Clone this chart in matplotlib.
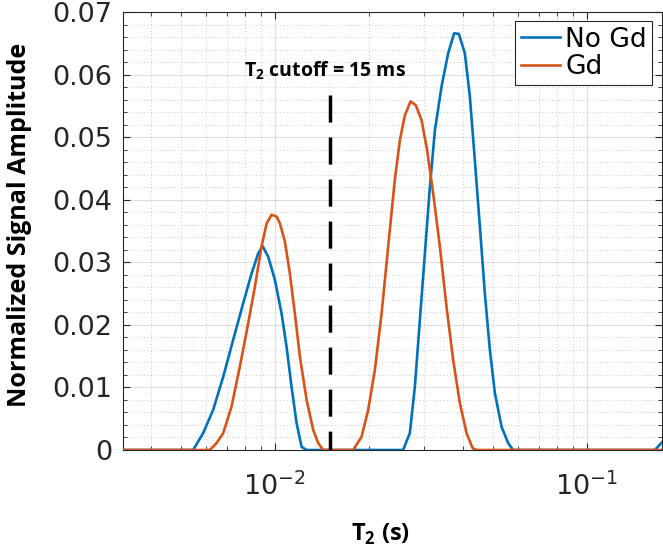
import matplotlib
matplotlib.use("Agg")
from matplotlib import pyplot as plt
from matplotlib.ticker import FixedLocator, FuncFormatter, LogLocator, NullFormatter

plt.rcParams["mathtext.fontset"] = "custom"
plt.rcParams["mathtext.rm"] = "DejaVu Sans"
plt.rcParams["mathtext.it"] = "DejaVu Sans:italic"
plt.rcParams["mathtext.bf"] = "Open Sans:bold"

# T2 in ms, amplitudes
t2_nogd = [3.0, 5.47, 5.89, 6.34, 6.83, 7.35, 7.91, 8.42, 8.84, 9.13, 9.52, 10.0, 10.51,
           10.90, 11.31, 11.74, 12.18, 12.64, 25.77, 27.08, 28.10, 29.16, 30.26, 31.40,
           32.58, 34.22, 35.93, 37.55, 38.88, 40.64, 42.17, 43.75, 45.41, 47.11, 48.88,
           50.72, 53.30, 55.95, 58.04, 165.2, 173.9]
amp_nogd = [0, 0, 0.0027, 0.0064, 0.0117, 0.0176, 0.0234, 0.0282, 0.0314, 0.0326, 0.0309,
            0.0272, 0.0218, 0.0165, 0.0101, 0.0043, 0.0005, 0, 0, 0.0027, 0.0101, 0.0208,
            0.0314, 0.0421, 0.0511, 0.0581, 0.0634, 0.0666, 0.0665, 0.0634, 0.0565, 0.0463,
            0.0357, 0.0250, 0.0160, 0.0091, 0.0037, 0.0011, 0, 0, 0.0012]

t2_gd = [3.0, 6.19, 6.50, 6.83, 7.26, 7.72, 8.21, 8.63, 9.06, 9.41, 9.76, 10.13, 10.38,
         10.77, 11.17, 11.59, 12.03, 12.64, 13.27, 13.77, 14.28, 17.82, 18.96, 19.91,
         20.92, 21.98, 23.08, 24.24, 25.16, 26.10, 27.22, 28.30, 29.53, 30.77, 32.17,
         33.80, 35.50, 37.28, 39.17, 41.16, 43.02, 44.31, 200.0]
amp_gd = [0, 0, 0.0011, 0.0027, 0.0069, 0.0133, 0.0202, 0.0261, 0.0325, 0.0362, 0.0376,
          0.0373, 0.0362, 0.0333, 0.0282, 0.0218, 0.0149, 0.0080, 0.0032, 0.0011, 0, 0,
          0.0021, 0.0064, 0.0128, 0.0218, 0.0325, 0.0432, 0.0495, 0.0535, 0.0557, 0.0551,
          0.0527, 0.0479, 0.0410, 0.0325, 0.0229, 0.0144, 0.0075, 0.0027, 0.0003, 0, 0]

cutoff_ms = 15
cutoff_top = 0.0567
yticks = [0, 0.01, 0.02, 0.03, 0.04, 0.05, 0.06, 0.07]

fig = plt.figure(figsize=(6.63, 5.47), dpi=100)
ax = fig.add_axes([123/663, 1 - 450/547, 538.5/663, 438/547])

ax.plot([t / 1000 for t in t2_nogd], amp_nogd, color="#0072BD", lw=1.9, label="No Gd", zorder=3)
ax.plot([t / 1000 for t in t2_gd], amp_gd, color="#D95319", lw=1.9, label="Gd", zorder=3)
ax.plot([cutoff_ms / 1000] * 2, [cutoff_top, 0], color="black", lw=2.5,
        linestyle=(0, (7.8, 4.3)), zorder=4)
ax.text(cutoff_ms / 1000 * 0.965, 0.0606, r"T$_\mathbf{2}$ cutoff = 15 ms", ha="center",
        va="center", fontsize=14, fontweight="bold", family="Open Sans")

ax.set_xscale("log")
ax.set_xlim(3.26e-3, 0.1735)
ax.set_ylim(0, 0.07)
ax.yaxis.set_major_locator(FixedLocator(yticks))
ax.yaxis.set_minor_locator(FixedLocator([i * 0.002 for i in range(36)]))
ax.yaxis.set_major_formatter(FuncFormatter(lambda v, p: f"{v:g}"))
ax.xaxis.set_major_locator(LogLocator(base=10, numticks=10))
ax.xaxis.set_minor_locator(LogLocator(base=10, subs=range(2, 10), numticks=20))
ax.xaxis.set_minor_formatter(NullFormatter())

ax.grid(True, which="major", color="#262626", alpha=0.15, lw=0.8)
ax.grid(True, which="minor", color="#262626", alpha=0.25, lw=0.7, linestyle=(0, (1, 2.5)))
ax.set_axisbelow(True)
ax.tick_params(which="both", direction="in", top=True, right=True, colors="#262626",
               labelsize=19.5)
ax.tick_params(which="major", length=5, width=0.8)
ax.tick_params(which="minor", length=3, width=0.6)
ax.tick_params(axis="x", pad=16)
ax.tick_params(axis="y", pad=8)
for s in ax.spines.values():
    s.set_color("#262626")
    s.set_linewidth(0.8)

ax.set_xlabel(r"T$_\mathbf{2}$ (s)", fontsize=17, fontweight="bold", family="Open Sans")
ax.xaxis.set_label_coords(0.479, -0.165)
ax.set_ylabel("Normalized Signal Amplitude", fontsize=18, fontweight="bold",
              family="Open Sans", va="center")
ax.yaxis.set_label_coords(-0.192, 0.514)

leg = ax.legend(loc="upper right", fontsize=19, handlelength=1.5, handletextpad=0.2,
                borderpad=0.2, labelspacing=0.05, borderaxespad=0.35, fancybox=False,
                framealpha=1)
leg.get_frame().set_edgecolor("#262626")
leg.get_frame().set_linewidth(0.8)

fig.savefig("out.png", dpi=100)
